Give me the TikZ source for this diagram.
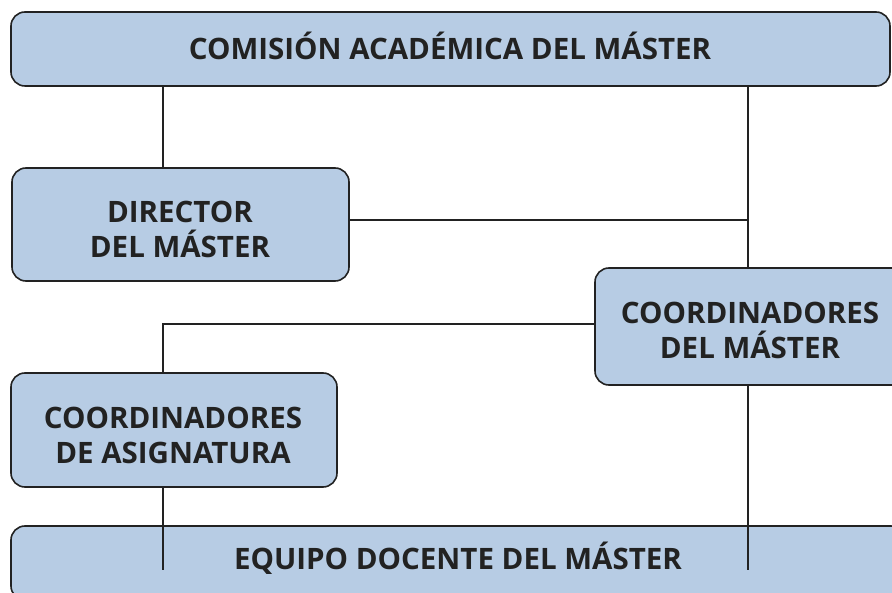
\documentclass[tikz,border=0pt]{standalone}
\usepackage{fontspec}
\setmainfont{Open Sans}
\definecolor{boxfill}{RGB}{183,204,228}
\definecolor{ink}{RGB}{34,34,34}
\begin{document}
\begin{tikzpicture}[x=1pt,y=-1pt,
  box/.style={draw=ink, line width=1.6pt, fill=boxfill, rounded corners=14pt,
    inner sep=0pt},
  lbl/.style={text=ink, inner sep=0pt, align=center, font=\fontsize{29.5}{35}\selectfont\bfseries},
  link/.style={draw=ink, line width=2pt}]
\useasboundingbox (0,0) rectangle (892,593);
\begin{scope}
\clip (0,0) rectangle (892,593);
\node[box, minimum width=879, minimum height=74] (cam) at (450.5,49) {};
\node[box, minimum width=337, minimum height=113] (dir) at (180.5,224.5) {};
\node[box, minimum width=312, minimum height=117] (cdm) at (751,326.5) {};
\node[box, minimum width=326, minimum height=114] (cas) at (174,430) {};
\node[box, minimum width=894, minimum height=74] (eq) at (458,563) {};
\node[lbl] (camt) at (450,45.5) {COMISIÓN ACADÉMICA DEL MÁSTER};
\node[lbl] (dirt) at (180,229.5) {DIRECTOR\\DEL MÁSTER};
\node[lbl] (cdmt) at (750,330.5) {COORDINADORES\\DEL MÁSTER};
\node[lbl] (cast) at (173,435.5) {COORDINADORES\\DE ASIGNATURA};
\node[lbl] (eqt) at (458,558.5) {EQUIPO DOCENTE DEL MÁSTER};
\end{scope}
\coordinate (e1) at (163,570);
\coordinate (e2) at (748,570);
\draw[link] (cam.south -| 163,0) -- (dir.north -| 163,0);
\draw[link] (cam.south -| 748,0) -- (cdm.north -| 748,0);
\draw[link] (dir.east |- 0,220) -- (748,220);
\draw[link] (cdm.west |- 0,324) -| (cas.north -| 163,0);
\draw[link] (cas.south -| 163,0) -- (e1);
\draw[link] (cdm.south -| 748,0) -- (e2);
\end{tikzpicture}
\end{document}
